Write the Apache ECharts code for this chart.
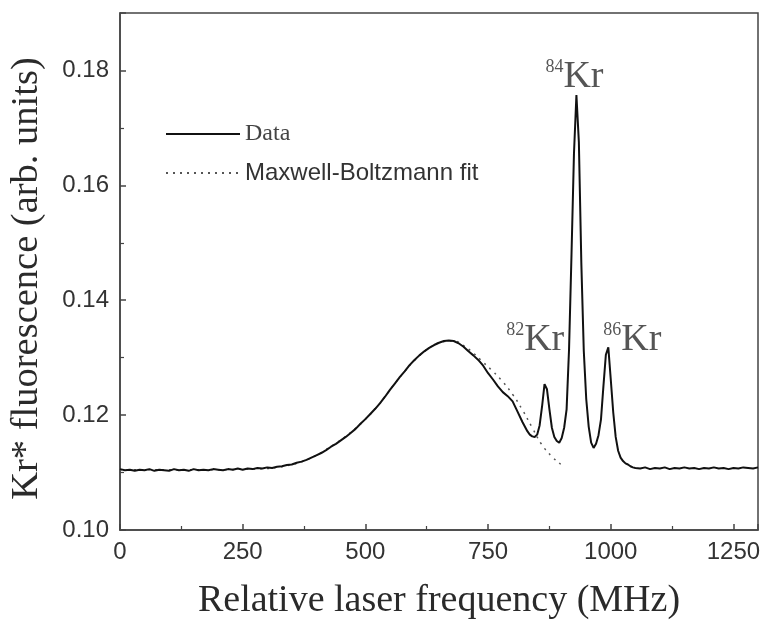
<!DOCTYPE html>
<html>
<head>
<meta charset="utf-8">
<script src="https://cdn.jsdelivr.net/npm/echarts@6/dist/echarts.min.js"></script>
<style>
html,body{margin:0;padding:0;background:#fff;}
#chart{width:767px;height:622px;}
</style>
</head>
<body>
<div id="chart"></div>
<script>
// Data: relative laser frequency (MHz) and Kr* fluorescence (arb. units)
var dataFreq = [
  0,10,20,30,40,50,60,70,80,90,100,110,120,130,140,150,160,170,180,190,
  200,210,220,230,240,250,260,270,280,290,300,310,320,330,340,350,360,370,380,390,
  400,410,420,430,440,450,460,470,480,490,500,510,520,530,540,550,560,570,580,590,
  600,610,620,630,640,650,660,670,680,690,700,710,720,730,740,750,760,770,780,790,
  800,810,820,830,835,840,845,850,855,860,865,870,875,880,885,890,895,900,905,910,
  915,920,925,930,935,940,945,950,955,960,965,970,975,980,985,990,995,1000,1005,1010,
  1015,1020,1025,1030,1035,1040,1045,1050,1060,1070,1080,1090,1100,1110,1120,1130,1140,1150,1160,1170,
  1180,1190,1200,1210,1220,1230,1240,1250,1260,1270,1280,1290,1300
];
var dataSignal = [
  0.1106,0.1104,0.1105,0.1103,0.1105,0.1104,0.1106,0.1103,0.1105,0.1104,0.1103,0.1106,0.1104,0.1105,0.1103,0.1106,0.1104,0.1105,0.1104,0.1106,
  0.1105,0.1104,0.1106,0.1105,0.1107,0.1105,0.1107,0.1106,0.1108,0.1107,0.1109,0.1108,0.1110,0.1111,0.1113,0.1114,0.1117,0.1119,0.1122,0.1126,
  0.1130,0.1134,0.1139,0.1145,0.1150,0.1156,0.1162,0.1169,0.1176,0.1185,0.1193,0.1202,0.1211,0.1221,0.1232,0.1244,0.1255,0.1266,0.1276,0.1287,
  0.1296,0.1304,0.1311,0.1317,0.1322,0.1326,0.1329,0.1330,0.1329,0.1325,0.1319,0.1311,0.1304,0.1296,0.1286,0.1273,0.1262,0.1250,0.1240,0.1233,
  0.1224,0.1206,0.1188,0.1172,0.1166,0.1163,0.1162,0.1166,0.1182,0.1215,0.1254,0.1245,0.1210,0.1178,0.1162,0.1155,0.1152,0.1160,0.1178,0.1210,
  0.1315,0.1480,0.1655,0.1757,0.1675,0.1465,0.1312,0.1228,0.1180,0.1152,0.1143,0.1150,0.1165,0.1192,0.1250,0.1305,0.1318,0.1262,0.1205,0.1162,
  0.1138,0.1126,0.1120,0.1116,0.1114,0.1111,0.1109,0.1108,0.1107,0.1109,0.1106,0.1108,0.1107,0.1109,0.1106,0.1108,0.1107,0.1109,0.1107,0.1108,
  0.1106,0.1108,0.1107,0.1109,0.1107,0.1108,0.1106,0.1108,0.1107,0.1109,0.1108,0.1107,0.1109
];
var fitFreq = [
  0,50,100,150,200,250,300,320,340,360,380,400,420,440,460,480,500,520,540,560,
  580,600,620,640,660,680,700,720,740,760,780,800,820,840,860,880,900,905
];
var fitSignal = [
  0.1105,0.1105,0.1105,0.1105,0.1105,0.1106,0.1107,0.1109,0.1112,0.1116,0.1122,0.1130,0.1140,0.1151,0.1163,0.1177,0.1193,0.1211,0.1232,0.1255,
  0.1276,0.1295,0.1311,0.1322,0.1328,0.1329,0.1321,0.1308,0.1292,0.1276,0.1258,0.1236,0.1209,0.1178,0.1148,0.1128,0.1113,0.1110
];
// Isotope annotations: mass number, label anchor frequency, label anchor signal
var isotopeMass = ['82','84','86'];
var isotopeFreq = [846, 926, 1044];
var isotopeSignal = [0.1300, 0.1758, 0.1300];
var xTicks = [0,250,500,750,1000,1250];
var yTicks = ['0.10','0.12','0.14','0.16','0.18'];

function zip(a,b){var r=[];for(var i=0;i<a.length;i++){r.push([a[i],b[i]]);}return r;}
var labelPts = [];
for (var i=0;i<isotopeMass.length;i++){
  labelPts.push({value:[isotopeFreq[i], isotopeSignal[i]], mass:isotopeMass[i]});
}

var chart = echarts.init(document.getElementById('chart'), null, {renderer:'canvas'});
var axisColor = '#444';
var textColor = '#2a2a2a';
chart.setOption({
  animation:false,
  backgroundColor:'#fff',
  grid:{left:120,right:9,top:13,bottom:92,show:true,borderColor:axisColor,borderWidth:1.5,backgroundColor:'transparent',
    containLabel:false, outerBoundsMode:'none'},
  legend:{
    orient:'vertical', left:160, top:117, itemWidth:74, itemHeight:14, itemGap:15,
    itemStyle:{opacity:0},
    data:[
      {name:'Data', textStyle:{fontFamily:'Liberation Serif', fontSize:24, color:'#444'}},
      {name:'Maxwell-Boltzmann fit', textStyle:{fontFamily:'Liberation Sans', fontSize:24, color:'#333'}}
    ],
    textStyle:{padding:[0,0,0,0]}
  },
  xAxis:{
    type:'value', min:0, max:1300, interval:250,
    name:'Relative laser frequency (MHz)', nameLocation:'middle', nameGap:52,
    nameTextStyle:{fontFamily:'Liberation Serif', fontSize:38, color:textColor},
    axisLine:{show:true,lineStyle:{color:axisColor,width:1.5}},
    axisTick:{show:true,inside:true,length:6,lineStyle:{color:axisColor,width:1.5}},
    minorTick:{show:true,splitNumber:2,length:4,lineStyle:{color:axisColor,width:1.2}},
    axisLabel:{showMaxLabel:false, margin:10, fontFamily:'Liberation Sans', fontSize:24, color:'#333',
      formatter:function(v){return xTicks.indexOf(v)>=0?String(v):'';}},
    splitLine:{show:false}
  },
  yAxis:{
    type:'value', min:0.10, max:0.19, interval:0.02,
    name:'Kr* fluorescence (arb. units)', nameLocation:'middle', nameGap:74,
    nameTextStyle:{fontFamily:'Liberation Serif', fontSize:38.5, color:textColor, padding:[0,14,0,0]},
    axisLine:{show:true,lineStyle:{color:axisColor,width:1.5}},
    axisTick:{show:true,inside:true,length:6,lineStyle:{color:axisColor,width:1.5}},
    minorTick:{show:true,splitNumber:2,length:4,lineStyle:{color:axisColor,width:1.2}},
    axisLabel:{showMaxLabel:false, margin:11, fontFamily:'Liberation Sans', fontSize:24, color:'#333',
      formatter:function(v){var s=v.toFixed(2);return yTicks.indexOf(s)>=0?s:'';}},
    splitLine:{show:false}
  },
  series:[
    {
      name:'Data', type:'line', data:zip(dataFreq,dataSignal), symbol:'none', smooth:false,
      lineStyle:{color:'#111',width:2}, itemStyle:{color:'#111'}, z:3
    },
    {
      name:'Maxwell-Boltzmann fit', type:'line', data:zip(fitFreq,fitSignal), symbol:'none', smooth:true,
      lineStyle:{color:'#555',width:1.5,type:[2,5]}, itemStyle:{color:'#555'}, z:2
    },
    {
      name:'labels', type:'scatter', data:labelPts, symbolSize:0, silent:true,
      label:{
        show:true, position:'top', distance:0,
        formatter:function(p){return '{sup|'+p.data.mass+'}{main|Kr}';},
        rich:{
          sup:{fontFamily:'Liberation Serif', fontSize:18, color:textColor, verticalAlign:'top', lineHeight:36, padding:[0,0,18,0]},
          main:{fontFamily:'Liberation Serif', fontSize:38, color:textColor, lineHeight:36}
        }
      }
    }
  ]
});
</script>
</body>
</html>
